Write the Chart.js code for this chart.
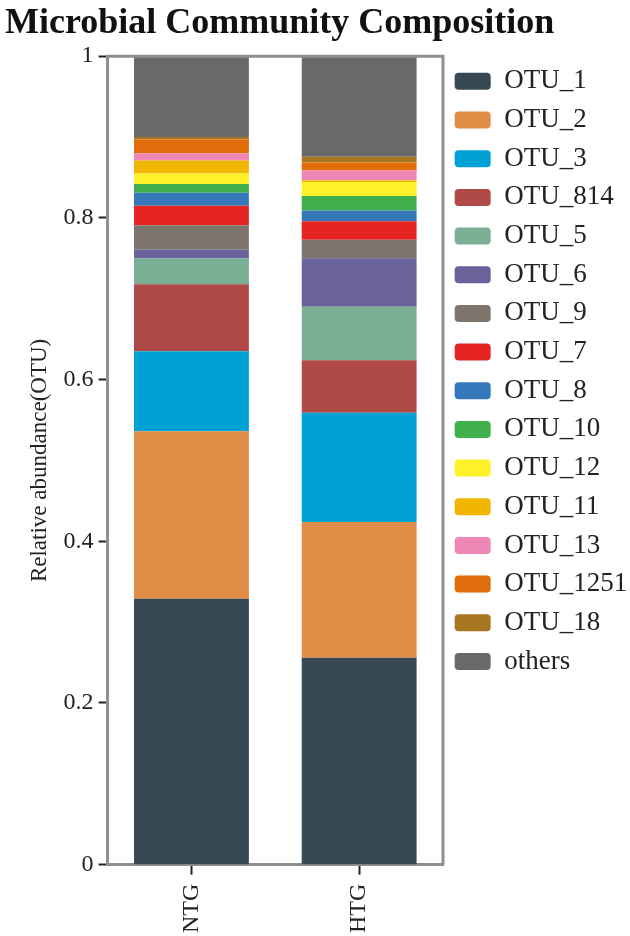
<!DOCTYPE html>
<html>
<head>
<meta charset="utf-8">
<script src="https://cdn.jsdelivr.net/npm/chart.js@4.4.1/dist/chart.umd.min.js"></script>
<style>
  html, body { margin: 0; padding: 0; background: #fff; }
  #wrap { width: 630px; height: 936px; }
</style>
</head>
<body>
<div id="wrap"><canvas id="barChart"></canvas></div>
<script>
// data (relative abundance per group)
const groups = ["NTG", "HTG"];
const otuNames = [
  "OTU_1", "OTU_2", "OTU_3", "OTU_814", "OTU_5", "OTU_6", "OTU_9", "OTU_7",
  "OTU_8", "OTU_10", "OTU_12", "OTU_11", "OTU_13", "OTU_1251", "OTU_18", "others"
];
const ntgValues = [0.329, 0.207, 0.099, 0.083, 0.032, 0.011, 0.030, 0.024,
  0.016, 0.011, 0.013, 0.016, 0.009, 0.017, 0.003, 0.100];
const htgValues = [0.256, 0.168, 0.135, 0.065, 0.066, 0.060, 0.023, 0.023,
  0.013, 0.018, 0.0175, 0.002, 0.012, 0.010, 0.007, 0.1245];
const yTicks = [0, 0.2, 0.4, 0.6, 0.8, 1];

const otuColors = [
  "#374a53", "#e08d48", "#00a2d6", "#b04a49", "#7baf95", "#6a629a", "#7e766c", "#e52424",
  "#3578ba", "#40b04c", "#fef12a", "#f0b600", "#ee87b6", "#e06c0a", "#a87620", "#696969"
];

const serif = "'Liberation Serif', 'Times New Roman', serif";
const axisGrey = "#8f8f8f";

const datasets = otuNames.map((name, i) => ({
  label: name,
  data: [ntgValues[i], htgValues[i]],
  backgroundColor: otuColors[i],
  borderWidth: 0,
  categoryPercentage: 1,
  barPercentage: 0.685,
}));

// top and right edges of the plot frame
const frameBox = {
  id: "frameBox",
  afterDraw(chart) {
    const { ctx, chartArea: a } = chart;
    ctx.save();
    ctx.strokeStyle = axisGrey;
    ctx.lineWidth = 3;
    ctx.beginPath();
    ctx.moveTo(a.left - 1.5, a.top);
    ctx.lineTo(a.right, a.top);
    ctx.lineTo(a.right, a.bottom);
    ctx.stroke();
    ctx.restore();
  },
};

new Chart(document.getElementById("barChart"), {
  type: "bar",
  data: { labels: groups, datasets: datasets },
  plugins: [frameBox],
  options: {
    responsive: true,
    maintainAspectRatio: false,
    animation: false,
    layout: { padding: { left: 5, right: 0, top: 0, bottom: -6 } },
    plugins: {
      title: {
        display: true,
        text: "Microbial Community Composition",
        align: "start",
        color: "#111",
        font: { family: serif, size: 36, weight: "bold" },
        padding: { top: 2, bottom: 11 },
      },
      legend: {
        position: "right",
        align: "start",
        fullSize: false,
        maxWidth: 187,
        labels: {
          color: "#222",
          font: { family: serif, size: 27 },
          boxWidth: 36,
          boxHeight: 17,
          useBorderRadius: true,
          borderRadius: 4,
          padding: 11.67,
        },
      },
      tooltip: { enabled: false },
    },
    scales: {
      x: {
        stacked: true,
        border: { display: true, color: axisGrey, width: 3 },
        grid: {
          offset: false,
          drawOnChartArea: false,
          drawTicks: true,
          tickLength: 10,
          tickWidth: 2,
          tickColor: "#222",
        },
        ticks: {
          color: "#222",
          font: { family: serif, size: 24 },
          minRotation: 90,
          maxRotation: 90,
          padding: 9,
          autoSkip: false,
        },
      },
      y: {
        stacked: true,
        min: 0,
        max: 1,
        afterBuildTicks(scale) {
          scale.ticks = yTicks.map(v => ({ value: v }));
        },
        border: { display: true, color: axisGrey, width: 3 },
        grid: {
          drawOnChartArea: false,
          drawTicks: true,
          tickLength: 9,
          tickWidth: 2,
          tickColor: "#222",
        },
        ticks: {
          color: "#222",
          font: { family: serif, size: 24 },
          padding: 5,
          callback: v => String(v),
        },
        title: {
          display: true,
          text: "Relative abundance(OTU)",
          color: "#222",
          font: { family: serif, size: 23 },
          padding: { top: 21, bottom: 5 },
        },
      },
    },
  },
});
</script>
</body>
</html>
